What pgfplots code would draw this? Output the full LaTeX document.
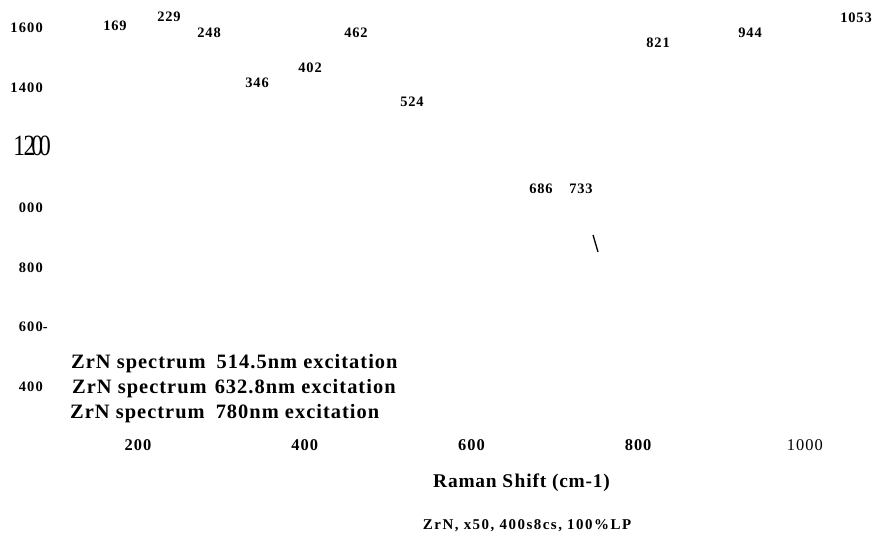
\documentclass[border=0pt]{standalone}
\usepackage{fontspec}
\usepackage{graphicx}
\usepackage{pgfplots}
\usepackage{pgfplotstable}
\pgfplotsset{compat=1.18}
\setmainfont{Liberation Serif}
\newfontfamily\tickfont[LetterSpace=8]{Liberation Serif}
\newfontfamily\peakfont[LetterSpace=6]{Liberation Serif}
\newfontfamily\legfont[LetterSpace=5]{Liberation Serif}
\newfontfamily\labfont[LetterSpace=4]{Liberation Serif}
\newfontfamily\capfont[LetterSpace=10]{Liberation Serif}

\pgfplotstableread{
x      y       label
172.4  1593.3  169
237.2  1623.4  229
285.2  1566.6  248
342.8  1399.5  346
406.4  1452.9  402
461.5  1569.9  462
528.7  1336.0  524
683.5  1048.5  686
731.5  1048.5  733
823.9  1536.5  821
934.3  1566.6  944
1061.4 1620.0  1053
}\peaks

\begin{document}
\begin{tikzpicture}
\begin{axis}[
  width=872bp, height=534bp, scale only axis,
  xmin=34.4, xmax=1080.6, ymin=-91, ymax=1693.6,
  clip=false,
  axis line style={draw=none}, tick style={draw=none},
  xtick={200,400,600,800,1000},
  xticklabels={200,400,600,800,{\mdseries 1000}},
  ytick={400,600,800,1000,1200,1400,1600},
  yticklabels={400,600\rlap{-},800,000,{\raisebox{4.7bp}{\makebox[28bp][r]{\mdseries\fontsize{29.5}{30}\selectfont\scalebox{0.8}[1]{1\kern-2bp 2\kern-5bp 0\kern-5bp 0}\kern-8bp}}},1400,1600},
  xticklabel style={anchor=north, inner sep=0pt, yshift=95bp, font={\fontsize{16.5}{18}\peakfont\bfseries}},
  yticklabel style={anchor=east, inner sep=0pt, xshift=43bp, font={\fontsize{14.5}{16}\tickfont\bfseries}},
  xlabel={Raman S\kern1.5bp h\kern1bp ift (cm-1)},
  xlabel style={at={(rel axis cs:0.5981,0.0880)}, anchor=base, inner sep=0pt, font={\fontsize{19.5}{22}\labfont\bfseries}},
]
\addplot[draw=none, mark=none, nodes near coords, point meta=explicit symbolic,
  nodes near coords style={anchor=base, inner sep=0pt, font={\fontsize{14.5}{16}\peakfont\bfseries}}]
  table[x=x, y=y, meta=label] {\peaks};
\addplot[black, line width=1.3bp] coordinates {(745.9,908.2) (751.9,851.3)};
\node[anchor=base west, inner sep=0pt, font={\fontsize{20.5}{22}\legfont\bfseries}] at (rel axis cs:0.0814,0.3090) {ZrN spectrum\hspace{5bp} 514.5nm excitation};
\node[anchor=base west, inner sep=0pt, font={\fontsize{20.5}{22}\legfont\bfseries}] at (rel axis cs:0.0826,0.2622) {ZrN spectrum\hspace{2bp} 632.8nm excitation};
\node[anchor=base west, inner sep=0pt, font={\fontsize{20.5}{22}\legfont\bfseries}] at (rel axis cs:0.0803,0.2154) {ZrN spectrum\hspace{5bp} 780nm excitation};
\node[anchor=base, inner sep=0pt, font={\fontsize{15}{17}\capfont\bfseries}] at (rel axis cs:0.6044,0.0075) {ZrN, x50, 400s8cs, 100\%LP};
\end{axis}
\end{tikzpicture}
\end{document}
